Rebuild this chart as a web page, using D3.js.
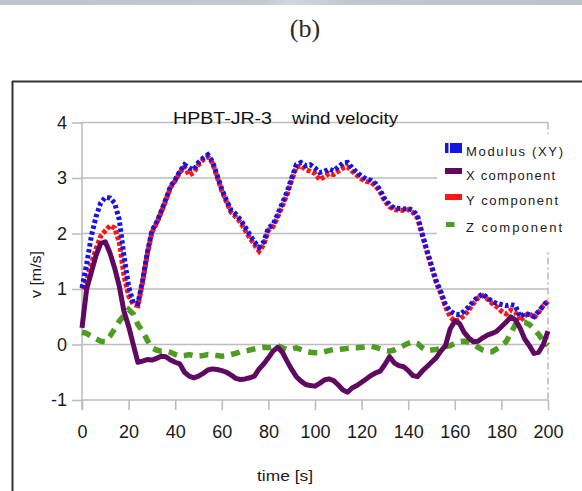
<!DOCTYPE html>
<html><head><meta charset="utf-8">
<script src="https://cdn.jsdelivr.net/npm/d3@7/dist/d3.min.js"></script>
<style>body{margin:0;background:#fff}svg{display:block}</style>
</head><body><svg id="c" width="582" height="491"></svg>
<script>
// ---- data ----
const time = [0,2,4,6,8,10,12,14,16,18,20,22,24,26,28,30,32,34,36,38,40,42,44,46,48,50,52,54,56,58,60,62,64,66,68,70,72,74,76,78,80,82,84,86,88,90,92,94,96,98,100,102,104,106,108,110,112,114,116,118,120,122,124,126,128,130,132,134,136,138,140,142,144,146,148,150,152,154,156,158,160,162,164,166,168,170,172,174,176,178,180,182,184,186,188,190,192,194,196,198,200];
const modulusXY = [1.02,1.45,1.95,2.30,2.55,2.65,2.64,2.55,2.25,1.60,1.05,0.75,0.74,1.15,1.65,2.05,2.20,2.40,2.62,2.85,2.97,3.12,3.24,3.18,3.15,3.28,3.36,3.42,3.30,3.05,2.80,2.60,2.42,2.35,2.25,2.12,1.98,1.85,1.75,1.85,2.10,2.16,2.35,2.55,2.75,3.00,3.24,3.28,3.22,3.24,3.18,3.10,3.12,3.16,3.13,3.20,3.27,3.28,3.18,3.10,3.03,2.98,2.96,2.90,2.78,2.62,2.52,2.46,2.45,2.44,2.45,2.42,2.32,2.00,1.70,1.42,1.15,0.95,0.72,0.60,0.55,0.54,0.60,0.68,0.78,0.86,0.91,0.84,0.78,0.74,0.72,0.70,0.72,0.70,0.50,0.56,0.54,0.50,0.60,0.70,0.80];
const xComponent = [0.30,1.00,1.30,1.60,1.82,1.85,1.65,1.38,1.05,0.60,0.33,0.00,-0.32,-0.30,-0.27,-0.28,-0.25,-0.21,-0.22,-0.28,-0.32,-0.35,-0.50,-0.57,-0.60,-0.57,-0.52,-0.46,-0.44,-0.45,-0.47,-0.50,-0.55,-0.61,-0.63,-0.62,-0.60,-0.57,-0.44,-0.35,-0.24,-0.12,-0.05,-0.14,-0.30,-0.45,-0.58,-0.66,-0.72,-0.74,-0.75,-0.70,-0.64,-0.62,-0.65,-0.73,-0.82,-0.86,-0.78,-0.74,-0.68,-0.62,-0.56,-0.51,-0.48,-0.36,-0.22,-0.33,-0.38,-0.40,-0.47,-0.56,-0.58,-0.48,-0.40,-0.32,-0.24,-0.12,-0.02,0.28,0.42,0.38,0.22,0.12,0.05,0.06,0.12,0.17,0.20,0.24,0.32,0.40,0.50,0.44,0.30,0.10,-0.02,-0.16,-0.14,0.00,0.24];
const yComponent = [1.00,1.15,1.45,1.72,1.95,2.05,2.14,2.10,1.85,1.25,0.88,0.72,0.70,1.12,1.62,2.02,2.18,2.38,2.60,2.83,2.95,3.10,3.20,3.05,3.10,3.24,3.33,3.38,3.27,3.02,2.77,2.57,2.38,2.30,2.20,2.06,1.92,1.80,1.68,1.80,2.06,2.12,2.30,2.50,2.70,2.96,3.20,3.22,3.15,3.12,3.08,2.97,3.02,3.08,3.06,3.12,3.18,3.20,3.12,3.05,2.98,2.94,2.92,2.86,2.74,2.58,2.48,2.43,2.42,2.42,2.43,2.38,2.28,1.98,1.68,1.40,1.12,0.92,0.68,0.50,0.42,0.45,0.52,0.62,0.74,0.84,0.88,0.82,0.74,0.68,0.60,0.55,0.62,0.58,0.42,0.52,0.56,0.48,0.58,0.70,0.78];
const zComponent = [0.22,0.20,0.15,0.10,0.06,0.05,0.15,0.28,0.42,0.52,0.63,0.55,0.36,0.24,0.08,-0.06,-0.10,-0.12,-0.12,-0.14,-0.18,-0.21,-0.20,-0.18,-0.20,-0.21,-0.20,-0.18,-0.19,-0.20,-0.21,-0.20,-0.18,-0.16,-0.13,-0.12,-0.10,-0.08,-0.06,-0.05,-0.06,-0.04,-0.02,-0.06,-0.09,-0.08,-0.06,-0.09,-0.12,-0.14,-0.15,-0.15,-0.13,-0.11,-0.09,-0.09,-0.08,-0.07,-0.06,-0.06,-0.05,-0.04,-0.03,-0.05,-0.08,-0.11,-0.12,-0.10,-0.06,-0.02,0.02,0.05,0.02,-0.06,-0.11,-0.10,-0.09,-0.07,-0.04,-0.02,0.02,0.05,0.06,0.04,0.00,-0.05,-0.10,-0.13,-0.13,-0.08,-0.03,0.05,0.20,0.36,0.40,0.40,0.36,0.28,0.18,0.06,-0.02];
const xTicks = [0,20,40,60,80,100,120,140,160,180,200];
const yTicks = [-1,0,1,2,3,4];
const seriesNames = ["Modulus (XY)","X component","Y component","Z component"];

// ---- chart ----
const svg = d3.select("#c");
const x = d3.scaleLinear().domain([0,200]).range([82,548]);
const y = d3.scaleLinear().domain([-1,4]).range([400,122.5]);
const grid = "#bdbdbd";

// top band
const defs = svg.append("defs");
const g0 = defs.append("linearGradient").attr("id","band");
[["0%","#bfc3ca"],["45%","#c4c8cf"],["50%","#d4d8dd"],["60%","#c2c6cd"],["100%","#bec2c9"]]
  .forEach(([o,c])=>g0.append("stop").attr("offset",o).attr("stop-color",c));
svg.append("rect").attr("x",0).attr("y",0).attr("width",582).attr("height",5).attr("fill","url(#band)");
svg.append("text").attr("x",305).attr("y",37).attr("text-anchor","middle")
  .attr("font-family","'Liberation Serif','DejaVu Serif',serif").attr("font-size",26).attr("fill","#2a2a2a").text("(b)");

// frame
svg.append("line").attr("x1",12).attr("x2",582).attr("y1",81.5).attr("y2",81.5).attr("stroke","#333").attr("stroke-width",2);
svg.append("line").attr("x1",12.5).attr("x2",12.5).attr("y1",81).attr("y2",491).attr("stroke","#333").attr("stroke-width",2);

// gridlines
svg.append("g").selectAll("line").data(yTicks).join("line")
  .attr("x1",82).attr("x2",548).attr("y1",d=>y(d)).attr("y2",d=>y(d))
  .attr("stroke",grid).attr("stroke-width",1.6);
// right dash-dot border
svg.append("line").attr("x1",548).attr("x2",548).attr("y1",y(4)).attr("y2",y(-1))
  .attr("stroke",grid).attr("stroke-width",1.6).attr("stroke-dasharray","7,3,2,3");

const font = "'Liberation Sans',Arial,sans-serif";
// y axis
const ya = svg.append("g").attr("transform","translate(82,0)")
  .call(d3.axisLeft(y).tickValues(yTicks).tickSize(10).tickPadding(5).tickFormat(d3.format("d")));
ya.select(".domain").remove();
ya.append("line").attr("x1",0).attr("x2",0).attr("y1",y(4)).attr("y2",410).attr("stroke",grid).attr("stroke-width",1.6);
ya.selectAll(".tick line").attr("stroke",grid).attr("stroke-width",1.6);
ya.selectAll("text").attr("font-family",font).attr("font-size",18).attr("fill","#1a1a1a").text(d=>d<0?"-"+Math.abs(d):d);
// x axis
const xa = svg.append("g").attr("transform","translate(0,400)")
  .call(d3.axisBottom(x).tickValues(xTicks).tickSize(10).tickPadding(15));
xa.select(".domain").remove();
xa.selectAll(".tick line").attr("stroke",grid).attr("stroke-width",1.6);
xa.selectAll("text").attr("font-family",font).attr("font-size",18).attr("fill","#1a1a1a");

// axis titles
svg.append("text").attr("x",257).attr("y",481).attr("font-family",font).attr("font-size",15)
  .attr("textLength",56).attr("lengthAdjust","spacingAndGlyphs").attr("fill","#1a1a1a").text("time [s]");
svg.append("text").attr("transform","translate(41,298) rotate(-90)").attr("font-family",font).attr("font-size",14)
  .attr("textLength",47).attr("lengthAdjust","spacingAndGlyphs").attr("fill","#1a1a1a").text("v [m/s]");

// title
svg.append("text").attr("x",173).attr("y",124).attr("font-family",font).attr("font-size",16)
  .attr("textLength",99).attr("lengthAdjust","spacingAndGlyphs").attr("fill","#111").text("HPBT-JR-3");
svg.append("text").attr("x",292).attr("y",124).attr("font-family",font).attr("font-size",16)
  .attr("textLength",106).attr("lengthAdjust","spacingAndGlyphs").attr("fill","#111").text("wind velocity");

// series
const line = vals => d3.line().x((d,i)=>x(time[i])).y(d=>y(d))(vals);
const plot = svg.append("g");
plot.append("path").attr("d",line(zComponent)).attr("fill","none").attr("stroke","#4f9c22")
  .attr("stroke-width",5.5).attr("stroke-dasharray","9,7");
plot.append("path").attr("d",line(yComponent)).attr("fill","none").attr("stroke","#ff1414")
  .attr("stroke-width",5).attr("stroke-dasharray","4,2");
plot.append("path").attr("d",line(xComponent)).attr("fill","none").attr("stroke","#5f0a60")
  .attr("stroke-width",5).attr("stroke-linejoin","round");
plot.append("path").attr("d",line(modulusXY)).attr("fill","none").attr("stroke","#1414e6")
  .attr("stroke-width",5).attr("stroke-dasharray","3.5,2.5");

// legend
svg.append("rect").attr("x",437).attr("y",134).attr("width",116).attr("height",118).attr("fill","#fff");
const lg = svg.append("g");
lg.append("rect").attr("x",445).attr("y",143).attr("width",3.5).attr("height",10).attr("fill","#1414e6");
lg.append("rect").attr("x",450).attr("y",143).attr("width",12).attr("height",10).attr("fill","#1414e6");
lg.append("rect").attr("x",445).attr("y",168).attr("width",17).attr("height",6).attr("fill","#5f0a60");
lg.append("rect").attr("x",445).attr("y",194).attr("width",17).attr("height",6).attr("fill","#ff1414");
lg.append("rect").attr("x",446).attr("y",222).attr("width",8.5).attr("height",5).attr("fill","#4f9c22");
const lx = [156,180,205,231.5], lw = [97,89,92,96];
seriesNames.forEach((s,i)=>lg.append("text").attr("x",466).attr("y",lx[i]).attr("font-family",font)
  .attr("font-size",13).attr("textLength",lw[i]).attr("lengthAdjust","spacing").attr("fill","#1a1a1a").text(s));
</script></body></html>
